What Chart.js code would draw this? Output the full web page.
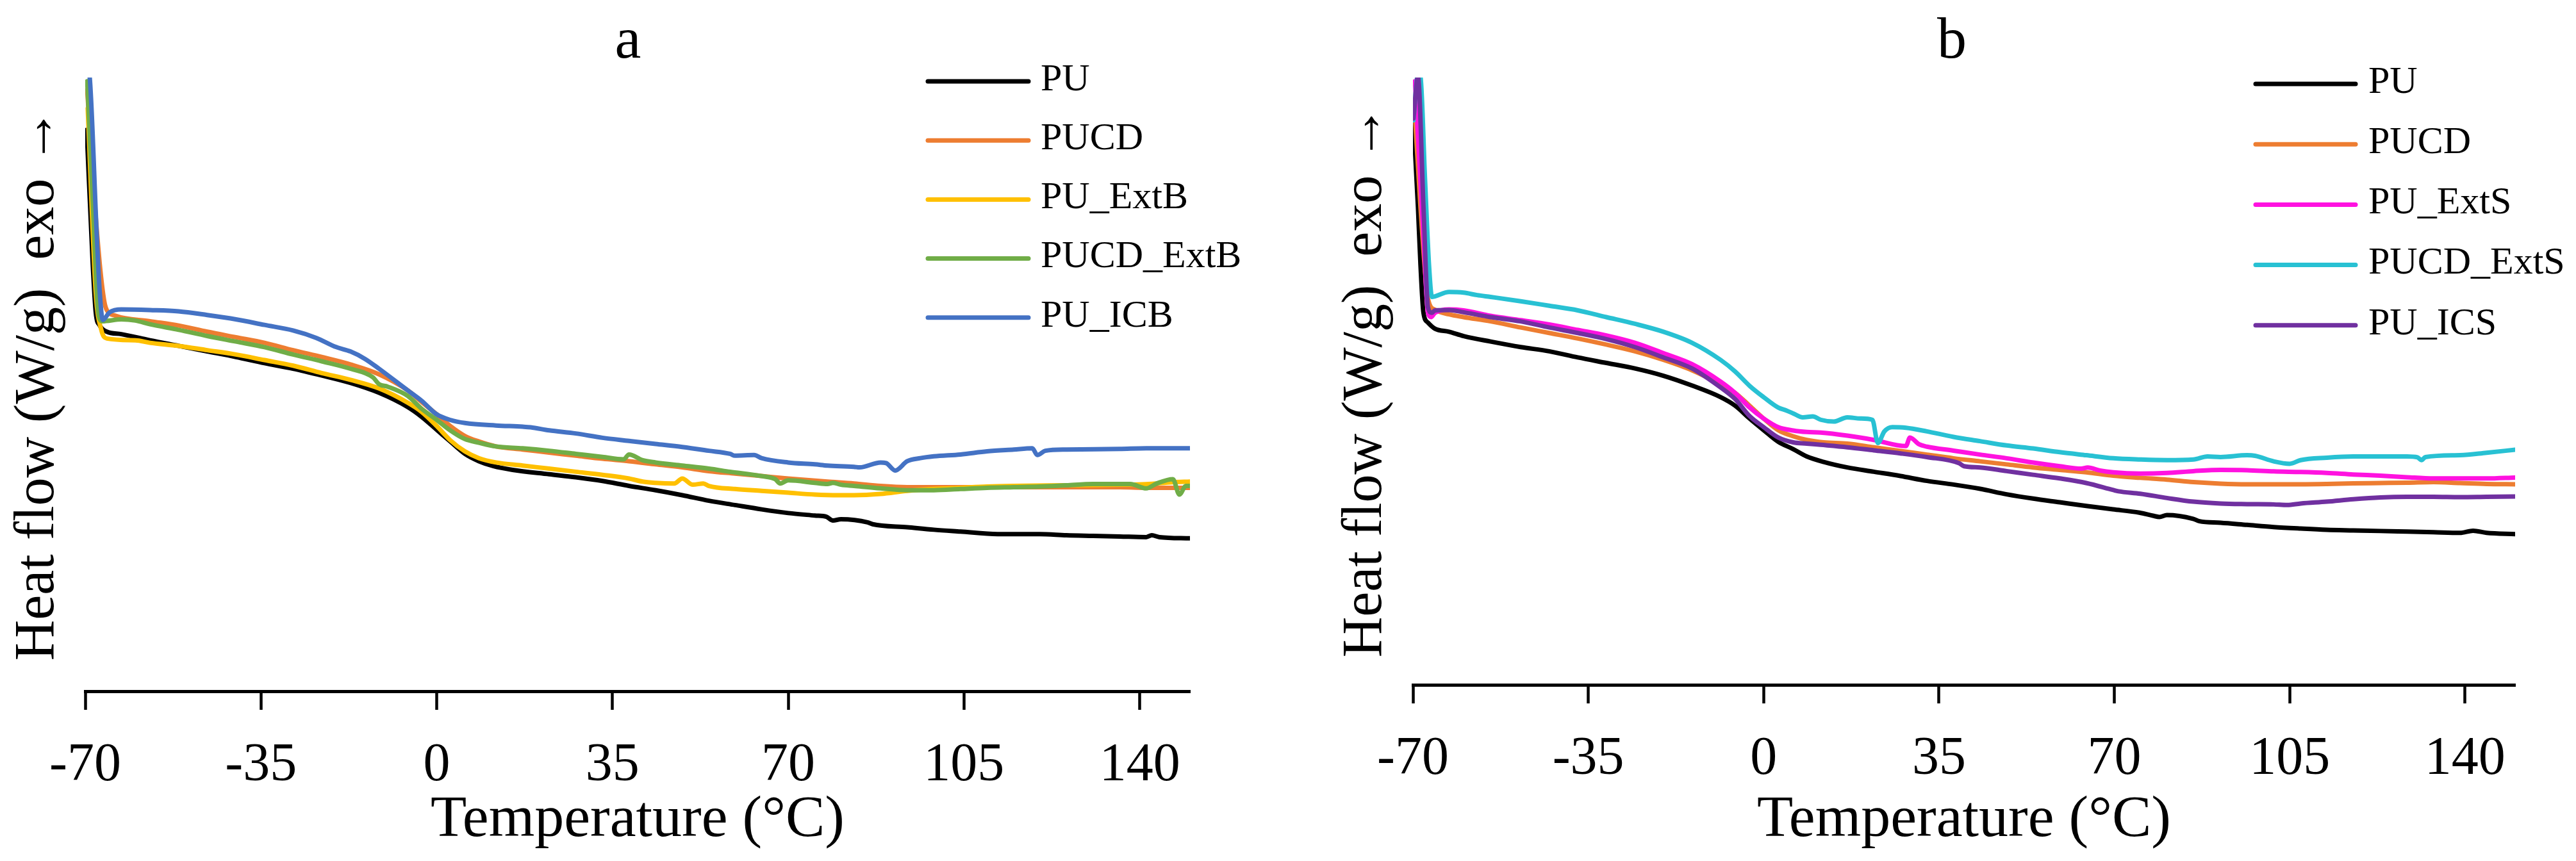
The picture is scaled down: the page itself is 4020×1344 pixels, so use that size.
<!DOCTYPE html>
<html>
<head>
<meta charset="utf-8">
<title>DSC curves a / b</title>
<script src="https://cdn.jsdelivr.net/npm/chart.js@4.4.1/dist/chart.umd.min.js"></script>
<style>
  html, body { margin: 0; padding: 0; background: #ffffff; }
  #wrap { position: relative; width: 4020px; height: 1344px; background: #ffffff; }
  .pane { position: absolute; top: 0; width: 2010px; height: 1344px; }
</style>
</head>
<body>
<div id="wrap">
  <div class="pane" style="left:0px"><canvas id="chartA"></canvas></div>
  <div class="pane" style="left:2010px"><canvas id="chartB"></canvas></div>
</div>
<script>
// ---------------- tick labels / titles ----------------
const xTickValues = [-70, -35, 0, 35, 70, 105, 140];
const xTickLabels = ["-70", "-35", "0", "35", "70", "105", "140"];
const xTitle = "Temperature (°C)";
const yTitle = "Heat flow (W/g)  exo \u2192";

// ---------------- panel a ----------------
const labelsA = ["PU", "PUCD", "PU_ExtB", "PUCD_ExtB", "PU_ICB"];
const colorsA = ["#000000", "#ED7D31", "#FFC000", "#70AD47", "#4472C4"];

const aPU_T = [-69.7,-68.5,-67.9,-67.1,-65.7,-62.8,-57.1,-51.4,-45.7,-40.0,-34.3,-28.6,-22.9,-17.2,-11.5,-5.8,-3.0,0.0,2.7,5.6,8.4,11.3,15.1,22.4,27.7,33.0,38.3,43.6,48.9,54.2,59.4,64.7,70.0,75.3,77.6,78.9,80.5,85.8,86.8,93.7,99.0,104.3,111.7,120.1,125.4,130.7,136.0,141.3,142.4,143.9,150.0];
const aPU_V = [91.5,69.7,61.9,59.8,58.8,58.4,57.4,56.5,55.6,54.7,53.7,52.8,51.7,50.5,48.9,46.6,45.0,42.9,41.0,39.0,37.8,37.0,36.4,35.7,35.2,34.6,33.8,33.1,32.3,31.4,30.7,30.0,29.4,29.0,28.8,28.2,28.4,27.9,27.6,27.1,26.7,26.4,26.0,26.0,25.8,25.7,25.6,25.5,25.8,25.5,25.3];

const aPUCD_T = [-69.6,-68.5,-67.1,-66.2,-65.7,-64.0,-57.1,-51.4,-45.7,-40.0,-34.3,-28.6,-22.9,-17.2,-11.5,-5.8,-3.0,0.0,2.7,5.6,8.4,11.8,17.1,22.4,27.7,33.0,38.3,43.6,48.9,54.2,59.4,64.7,70.0,77.8,83.1,88.4,93.7,99.0,109.6,120.1,130.7,136.0,141.3,150.0];
const aPUCD_V = [98.0,84.0,69.7,63.7,62.3,61.4,60.5,59.8,58.8,57.9,57.0,55.8,54.7,53.5,51.9,49.3,47.4,45.4,43.5,41.9,41.0,40.2,39.7,39.2,38.7,38.2,37.8,37.3,36.8,36.2,35.8,35.4,35.0,34.5,34.2,33.8,33.6,33.6,33.6,33.6,33.6,33.6,33.5,33.5];

const aExtB_T = [-69.5,-67.9,-66.8,-65.7,-60.0,-57.1,-51.4,-45.7,-40.0,-34.3,-28.6,-22.9,-17.2,-11.5,-5.8,-3.0,0.0,2.7,5.6,8.4,11.8,17.1,22.4,27.7,33.0,38.3,41.0,43.6,47.3,48.9,51.0,53.1,54.2,59.4,64.7,70.0,75.3,80.0,83.1,88.4,93.7,99.0,104.3,109.6,114.9,125.4,136.0,141.3,146.6,150.0];
const aExtB_V = [95.0,65.1,59.1,57.7,57.4,57.0,56.5,55.8,55.1,54.2,53.3,52.1,51.0,49.6,47.3,45.8,43.5,41.2,39.4,38.3,37.6,37.1,36.6,36.1,35.6,35.0,34.5,34.3,34.2,35.0,34.0,34.2,33.8,33.3,33.0,32.7,32.4,32.3,32.3,32.5,33.0,33.3,33.5,33.7,33.8,33.9,34.0,34.1,34.4,34.5];

const aCDExtB_T = [-69.6,-68.5,-67.4,-66.6,-62.8,-60.0,-57.1,-51.4,-45.7,-40.0,-34.3,-28.6,-22.9,-17.2,-12.7,-11.5,-9.8,-5.8,-3.0,0.0,2.7,5.6,8.4,11.8,17.1,22.4,27.7,33.0,37.2,38.3,40.9,43.6,48.9,54.2,58.4,64.7,67.4,68.4,70.0,75.3,77.8,78.9,80.5,83.1,88.4,93.7,99.0,104.3,109.6,114.9,120.1,125.4,130.7,138.1,141.3,143.4,146.6,147.9,149.2,150.0];
const aCDExtB_V = [99.4,80.0,61.9,60.5,60.8,60.6,60.0,59.1,58.1,57.2,56.3,55.1,54.0,52.8,51.4,50.3,49.9,48.4,46.3,44.5,42.8,41.4,40.8,40.2,39.9,39.5,39.0,38.5,38.1,38.9,38.0,37.6,37.1,36.6,36.1,35.4,34.9,34.2,34.7,34.3,34.1,34.3,34.0,33.8,33.4,33.1,33.1,33.3,33.5,33.6,33.7,33.9,34.1,34.1,33.4,34.2,34.9,32.4,33.8,33.8];

const aICB_T = [-69.7,-69.1,-67.7,-67.1,-66.5,-65.2,-62.8,-57.1,-51.4,-45.7,-40.0,-34.3,-28.6,-24.0,-20.0,-17.2,-14.3,-11.5,-5.8,-3.0,0.0,2.7,5.6,11.8,17.1,18.7,22.4,27.7,33.0,38.3,43.6,48.9,54.2,58.4,59.4,63.2,64.7,70.0,75.3,77.8,83.1,84.2,88.4,89.5,91.3,93.7,96.3,99.0,104.3,109.6,114.9,118.6,119.6,121.2,125.4,136.0,141.3,150.0];
const aICB_V = [102,100,74.4,65.1,60.7,61.9,62.4,62.3,62.1,61.5,60.8,59.9,59.0,57.8,56.3,55.6,54.4,52.8,49.3,47.6,45.4,44.5,44.0,43.6,43.4,43.3,42.8,42.3,41.6,41.1,40.6,40.1,39.5,39.0,38.7,38.8,38.3,37.6,37.3,37.1,36.9,36.8,37.6,37.5,36.3,37.8,38.3,38.6,38.9,39.4,39.7,39.9,38.8,39.5,39.7,39.8,39.9,39.9];

// ---------------- panel b ----------------
const labelsB = ["PU", "PUCD", "PU_ExtS", "PUCD_ExtS", "PU_ICS"];
const colorsB = ["#000000", "#ED7D31", "#FF12E0", "#28C1D3", "#7030A0"];

const bPU_T = [-69.9,-69.0,-68.5,-67.9,-67.0,-65.6,-62.8,-59.9,-54.5,-48.5,-42.8,-37.1,-31.4,-25.7,-20.0,-14.3,-8.6,-5.7,-2.8,0.0,2.9,5.9,8.6,12.0,16.7,22.0,27.3,32.6,37.9,43.2,48.5,53.8,59.1,64.4,69.7,75.0,77.7,79.0,80.5,85.7,87.0,91.2,96.5,101.8,107.2,112.4,117.7,123.1,128.4,133.7,139.0,141.6,144.3,150.0];
const bPU_V = [92.8,78.8,69.4,61.5,59.9,58.9,58.4,57.7,56.8,55.9,55.2,54.2,53.3,52.4,51.2,49.6,47.7,46.3,44.2,42.3,40.4,39.2,38.0,37.1,36.2,35.5,34.8,34.0,33.4,32.7,31.8,31.1,30.5,29.9,29.35,28.8,28.3,28.1,28.4,27.8,27.4,27.15,26.8,26.45,26.2,26.0,25.9,25.8,25.7,25.6,25.5,25.85,25.5,25.3];

const bPUCD_T = [-69.7,-68.5,-67.0,-65.6,-62.8,-59.9,-54.5,-48.5,-42.8,-37.1,-31.4,-25.7,-20.0,-14.3,-8.6,-5.7,-2.8,0.0,2.9,5.9,8.6,12.0,16.7,22.0,27.3,32.6,37.9,43.2,48.5,53.8,59.1,64.4,69.8,75.2,80.5,85.8,91.2,96.5,101.8,107.2,112.4,117.7,123.1,128.4,133.7,139.0,144.3,150.0];
const bPUCD_V = [95.2,78.8,63.8,62.0,61.25,60.8,60.1,59.1,58.2,57.3,56.3,55.2,53.8,52.1,49.8,48.4,46.3,44.2,42.3,41.3,40.7,40.3,40.1,39.5,38.9,38.3,37.7,37.2,36.7,36.2,35.8,35.4,34.85,34.5,34.2,33.8,33.55,33.45,33.45,33.45,33.5,33.6,33.65,33.7,33.8,33.65,33.5,33.45];

const bExtS_T = [-69.6,-67.9,-67.0,-66.4,-65.6,-62.8,-59.9,-54.5,-48.5,-42.8,-37.1,-31.4,-25.7,-20.0,-14.3,-8.6,-5.7,-2.8,0.0,2.9,5.9,8.6,11.4,16.7,22.0,28.4,29.2,31.0,32.6,37.9,43.2,48.5,53.8,59.1,63.4,64.7,67.1,69.8,75.2,80.5,85.8,91.2,96.5,101.8,107.2,112.4,117.7,123.1,128.4,133.7,139.0,144.3,150.0];
const bExtS_V = [99.4,74.1,61.5,60.8,61.5,62.05,61.9,61.0,60.3,59.6,58.7,57.8,56.6,54.9,53.1,50.25,48.4,46.0,44.2,42.8,42.25,42.0,41.9,41.4,40.7,39.7,41.1,40.0,39.6,38.95,38.3,37.7,37.0,36.4,36.0,36.2,35.7,35.4,35.2,35.3,35.6,35.8,35.75,35.55,35.45,35.3,35.05,34.85,34.6,34.4,34.4,34.4,34.55];

const bCDExtS_T = [-69.9,-69.0,-68.5,-67.6,-66.8,-66.2,-65.6,-62.8,-59.9,-57.2,-54.5,-48.5,-42.8,-37.1,-31.4,-25.7,-20.0,-14.3,-8.6,-5.7,-2.8,0.0,2.9,4.6,6.0,7.8,9.8,11.4,14.0,16.7,19.3,21.7,22.8,24.1,25.7,28.4,32.6,37.9,43.2,48.5,53.8,59.1,64.4,69.8,75.2,80.5,85.8,88.6,91.2,96.5,98.1,101.8,105.0,107.2,112.4,117.7,123.1,128.4,130.5,131.3,132.1,139.0,144.3,150.0];
const bCDExtS_V = [93,100.5,100.1,83.5,69.4,64.1,64.2,64.9,64.8,64.4,64.1,63.4,62.65,61.9,60.8,59.7,58.4,56.6,53.8,51.9,49.55,47.7,46.0,45.5,45.0,44.4,44.55,44.0,43.7,44.4,44.2,44.0,40.2,42.1,42.8,42.7,42.1,41.2,40.5,39.8,39.3,38.7,38.2,37.7,37.5,37.4,37.5,38.0,37.9,38.2,38.1,37.2,36.8,37.4,37.8,38.0,38.0,38.0,37.85,37.4,37.9,38.2,38.6,39.1];

const bICS_T = [-69.9,-69.0,-67.9,-67.0,-66.2,-65.6,-62.8,-59.9,-54.5,-48.5,-42.8,-37.1,-31.4,-25.7,-20.0,-14.3,-8.6,-5.7,-2.8,0.0,2.9,5.9,8.6,11.4,16.7,22.0,27.3,32.6,39.0,40.0,43.2,48.5,53.8,59.1,64.4,69.8,70.8,75.2,80.5,85.8,91.2,96.5,101.8,104.5,107.2,112.4,117.7,123.1,128.4,133.7,139.0,144.3,150.0];
const bICS_V = [93.3,100.1,78.8,62.4,61.5,61.9,61.95,61.6,60.8,60.1,59.1,58.2,57.2,55.9,54.2,52.4,49.3,47.4,44.6,42.8,41.1,40.3,40.1,39.9,39.5,39.0,38.5,37.9,36.9,36.4,36.2,35.6,35.0,34.4,33.65,32.5,32.3,31.9,31.2,30.6,30.3,30.2,30.15,30.05,30.3,30.6,31.0,31.3,31.4,31.4,31.35,31.4,31.45];

// ---------------- rendering ----------------
const FONT = "'Liberation Serif', 'Times New Roman', serif";

const panelDecor = {
  id: 'panelDecor',
  afterDraw(chart, args, o) {
    const ctx = chart.ctx;
    ctx.save();
    ctx.fillStyle = '#000';
    ctx.font = o.titleSize + 'px ' + FONT;
    ctx.textAlign = 'center';
    ctx.textBaseline = 'alphabetic';
    ctx.fillText(o.title, o.titleX, o.titleY);
    ctx.font = o.legendSize + 'px ' + FONT;
    ctx.textAlign = 'left';
    ctx.textBaseline = 'middle';
    chart.data.datasets.forEach((ds, i) => {
      const y = o.legendY0 + i * o.legendGap;
      ctx.strokeStyle = ds.borderColor;
      ctx.lineWidth = 7;
      ctx.lineCap = 'round';
      ctx.beginPath();
      ctx.moveTo(o.legendX1, y);
      ctx.lineTo(o.legendX2, y);
      ctx.stroke();
      ctx.fillStyle = '#000';
      ctx.fillText(ds.label, o.legendTextX, y - 2);
    });
    ctx.restore();
  }
};

function makeChart(id, labels, colors, ts, vs, opt) {
  const datasets = labels.map((lab, i) => ({
    label: lab,
    data: ts[i].map((t, k) => ({ x: t, y: vs[i][k] })),
    borderColor: colors[i],
    backgroundColor: colors[i],
    borderWidth: 7,
    pointRadius: 0,
    pointHoverRadius: 0,
    cubicInterpolationMode: 'monotone',
    borderJoinStyle: 'round',
    borderCapStyle: 'round',
    fill: false,
    order: labels.length - i
  }));
  return new Chart(document.getElementById(id), {
    type: 'line',
    data: { datasets },
    options: {
      responsive: true,
      maintainAspectRatio: false,
      animation: false,
      events: [],
      layout: { padding: { top: 121, right: opt.padRight, bottom: 0, left: 0 } },
      plugins: {
        legend: { display: false },
        tooltip: { enabled: false },
        title: { display: false },
        panelDecor: opt.decor
      },
      scales: {
        x: {
          type: 'linear',
          min: -70,
          max: 150,
          afterBuildTicks: (s) => { s.ticks = xTickValues.map(v => ({ value: v })); },
          afterFit: (s) => { s.height = opt.xHeight; },
          ticks: {
            autoSkip: false,
            maxRotation: 0,
            minRotation: 0,
            padding: 38,
            color: '#000',
            font: { family: FONT, size: 84 },
            callback: (v, i) => xTickLabels[i]
          },
          grid: {
            display: true,
            drawOnChartArea: false,
            drawTicks: true,
            tickLength: 29,
            tickWidth: 4.5,
            tickColor: '#000'
          },
          border: { display: true, color: '#000', width: 5 },
          title: {
            display: true,
            text: xTitle,
            color: '#000',
            font: { family: FONT, size: 92 },
            padding: { top: 0, bottom: 8 }
          }
        },
        y: {
          type: 'linear',
          min: opt.yMin,
          max: 100,
          afterFit: (s) => { s.width = opt.yWidth; },
          ticks: { display: false },
          grid: { display: false },
          border: { display: false },
          title: {
            display: true,
            text: yTitle,
            color: '#000',
            font: { family: FONT, size: 88 },
            padding: { top: opt.yTitlePad, bottom: 0 }
          }
        }
      }
    },
    plugins: [panelDecor]
  });
}

makeChart('chartA', labelsA, colorsA,
  [aPU_T, aPUCD_T, aExtB_T, aCDExtB_T, aICB_T],
  [aPU_V, aPUCD_V, aExtB_V, aCDExtB_V, aICB_V],
  {
    padRight: 153, xHeight: 265, yWidth: 133, yMin: 0.52, yTitlePad: 7,
    decor: { title: 'a', titleX: 980, titleY: 90, titleSize: 92,
             legendSize: 60, legendX1: 1448, legendX2: 1605, legendTextX: 1624,
             legendY0: 127, legendGap: 92.2 }
  });

makeChart('chartB', labelsB, colorsB,
  [bPU_T, bPUCD_T, bExtS_T, bCDExtS_T, bICS_T],
  [bPU_V, bPUCD_V, bExtS_V, bCDExtS_V, bICS_V],
  {
    padRight: 95, xHeight: 275, yWidth: 195, yMin: 0.63, yTitlePad: 69,
    decor: { title: 'b', titleX: 1036, titleY: 90, titleSize: 92,
             legendSize: 60, legendX1: 1510, legendX2: 1666, legendTextX: 1686,
             legendY0: 131, legendGap: 94.2 }
  });
</script>
</body>
</html>
